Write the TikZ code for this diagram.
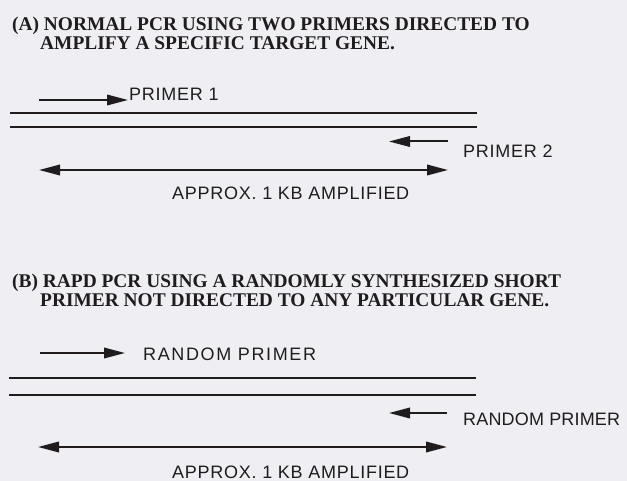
\documentclass[tikz,border=0pt]{standalone}
\usepackage{fontspec}
\usetikzlibrary{arrows.meta}
\newfontfamily\titlefont{Liberation Serif}
\newfontfamily\labelfont[LetterSpace=4]{Liberation Sans}
\newfontfamily\labelfontwide[LetterSpace=9]{Liberation Sans}
\newfontfamily\labelfontnarrow[LetterSpace=1]{Liberation Sans}
\definecolor{bg}{RGB}{239,239,243}
\definecolor{ink}{RGB}{32,28,30}
\tikzset{
  ttl/.style={anchor=base west, inner sep=0pt, text=ink, font=\titlefont\fontsize{19.4}{22}\selectfont\bfseries},
  lbl/.style={anchor=base west, inner sep=0pt, text=ink, font=\labelfont\fontsize{18}{20}\selectfont},
  strand/.style={draw=ink, line width=2.4pt},
  primer/.style={draw=ink, line width=2pt, -{Triangle[length=21pt,width=10.5pt]}},
  span/.style={draw=ink, line width=2pt, {Triangle[length=21pt,width=10.5pt]}-{Triangle[length=21pt,width=10.5pt]}},
}
\begin{document}
\begin{tikzpicture}[x=1pt,y=-1pt]
\fill[bg] (0,0) rectangle (627,481);
\useasboundingbox (0,0) rectangle (627,481);

% ---------- (A) ----------
\node[ttl] (ta1) at (12,30.5) {(A) NORMAL PCR USING TWO PRIMERS DIRECTED TO};
\node[ttl] (ta2) at (40,50) {AMPLIFY A SPECIFIC TARGET GENE.};

\coordinate (p1s) at (39,100);
\coordinate (p1e) at (128,100);
\draw[primer] (p1s) -- (p1e);
\node[lbl] (lp1) at (129,101) {PRIMER 1};

\coordinate (sa1l) at (10,113);
\coordinate (sa1r) at (477,113);
\coordinate (sa2l) at (10,127);
\coordinate (sa2r) at (477,127);
\draw[strand] (sa1l) -- (sa1r);
\draw[strand] (sa2l) -- (sa2r);

\coordinate (p2s) at (448,141.5);
\coordinate (p2e) at (389,141.5);
\draw[primer] (p2s) -- (p2e);
\node[lbl] (lp2) at (463,158) {PRIMER 2};

\coordinate (aal) at (39,170);
\coordinate (aar) at (448,170);
\draw[span] (aal) -- (aar);
\node[lbl] (la) at (172,200) {APPROX. 1 KB AMPLIFIED};

% ---------- (B) ----------
\node[ttl] (tb1) at (12,288) {(B) RAPD PCR USING A RANDOMLY SYNTHESIZED SHORT};
\node[ttl] (tb2) at (40,307) {PRIMER NOT DIRECTED TO ANY PARTICULAR GENE.};

\coordinate (r1s) at (40,353);
\coordinate (r1e) at (125,353);
\draw[primer] (r1s) -- (r1e);
\node[lbl, font=\labelfontwide\fontsize{18}{20}\selectfont] (lr1) at (143,360) {RANDOM PRIMER};

\coordinate (sb1l) at (9,378);
\coordinate (sb1r) at (476,378);
\coordinate (sb2l) at (9,395);
\coordinate (sb2r) at (476,395);
\draw[strand] (sb1l) -- (sb1r);
\draw[strand] (sb2l) -- (sb2r);

\coordinate (r2s) at (447,413);
\coordinate (r2e) at (389,413);
\draw[primer] (r2s) -- (r2e);
\node[lbl, font=\labelfontnarrow\fontsize{18}{20}\selectfont] (lr2) at (463,425) {RANDOM PRIMER};

\coordinate (abl) at (38,447);
\coordinate (abr) at (447,447);
\draw[span] (abl) -- (abr);
\node[lbl] (lb) at (172,478) {APPROX. 1 KB AMPLIFIED};
\end{tikzpicture}
\end{document}
